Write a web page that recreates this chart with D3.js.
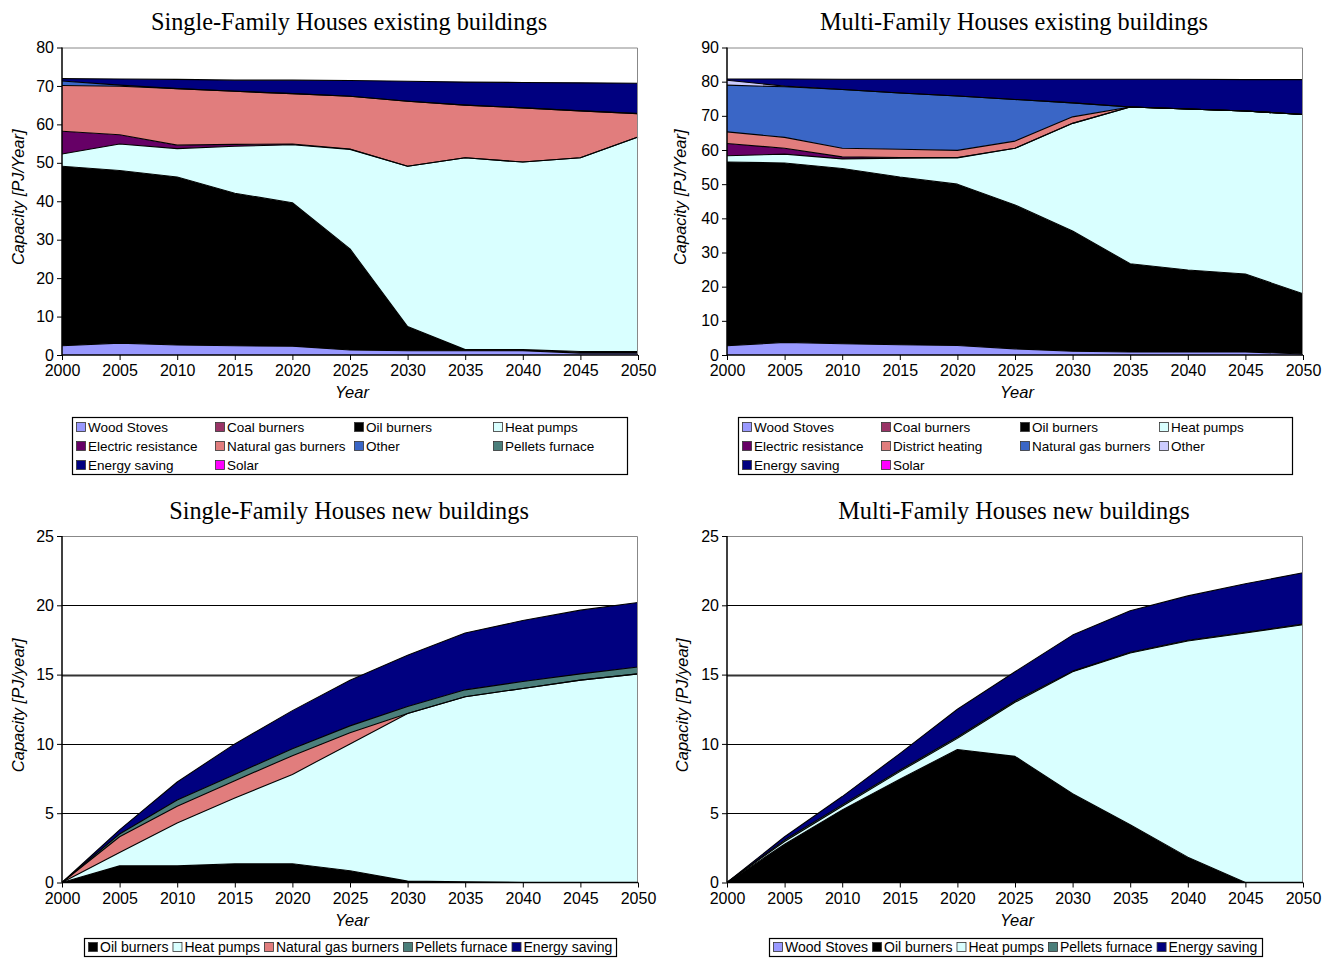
<!DOCTYPE html>
<html>
<head>
<meta charset="utf-8">
<script src="https://cdn.jsdelivr.net/npm/d3@7/dist/d3.min.js"></script>
<style>
  body { margin: 0; background: #fff; }
  svg { display: block; }
  text { font-family: "Liberation Sans", Arial, sans-serif; fill: #000; }
  .title { font-family: "Liberation Serif", "Times New Roman", serif; font-size: 24.3px; }
  .axt { font-size: 16.5px; font-style: italic; }
</style>
</head>
<body>
<svg id="chart" width="1334" height="958"></svg>
<script>
// ---------- DATA ----------
const years = [2000, 2005, 2010, 2015, 2020, 2025, 2030, 2035, 2040, 2045, 2050];

// Single-Family Houses existing buildings (PJ/year)
const sfhExWood     = [2.4, 3.1, 2.6, 2.4, 2.3, 1.3, 1.1, 1.1, 1.1, 0.5, 0.5];
const sfhExCoal     = [0, 0, 0, 0, 0, 0, 0, 0, 0, 0, 0];
const sfhExOil      = [46.7, 44.9, 43.7, 39.7, 37.3, 26.3, 6.3, 0.3, 0.3, 0.4, 0.4];
const sfhExHeatPump = [3.2, 6.9, 7.4, 12.2, 15.1, 25.9, 41.7, 49.9, 48.8, 50.4, 55.8];
const sfhExElectric = [5.9, 2.4, 0.9, 0.5, 0.2, 0.1, 0, 0, 0, 0, 0];
const sfhExGas      = [11.9, 12.6, 14.7, 13.8, 13.1, 13.7, 16.9, 13.7, 14.1, 12.2, 6.1];
const sfhExOther    = [1.2, 0.3, 0, 0, 0, 0, 0, 0, 0, 0, 0];
const sfhExPellets  = [0, 0, 0, 0, 0, 0, 0, 0, 0, 0, 0];
const sfhExSaving   = [0.6, 1.6, 2.4, 2.9, 3.5, 4.1, 5.2, 6.0, 6.6, 7.3, 7.9];
const sfhExSolar    = [0, 0, 0, 0, 0, 0, 0, 0, 0, 0, 0];

// Multi-Family Houses existing buildings
const mfhExWood     = [2.7, 3.7, 3.3, 3.0, 2.8, 1.8, 1.1, 0.9, 0.9, 0.9, 0.3];
const mfhExCoal     = [0, 0, 0, 0, 0, 0, 0, 0, 0, 0, 0];
const mfhExOil      = [53.8, 52.5, 51.3, 49.1, 47.2, 42.1, 35.2, 25.8, 24.0, 22.8, 17.6];
const mfhExHeatPump = [1.8, 2.6, 2.8, 5.5, 7.7, 16.6, 31.5, 45.9, 47.1, 47.7, 52.5];
const mfhExElectric = [3.6, 1.7, 0.6, 0.2, 0.1, 0, 0, 0, 0, 0, 0];
const mfhExDistrict = [3.4, 3.2, 2.5, 2.4, 2.1, 2.1, 1.9, 0, 0, 0, 0];
const mfhExGas      = [13.7, 14.8, 17.2, 16.5, 15.9, 12.2, 4.1, 0, 0, 0, 0];
const mfhExOther    = [1.4, 0.2, 0, 0, 0, 0, 0, 0, 0, 0, 0];
const mfhExSaving   = [0.4, 2.1, 3.0, 4.0, 4.9, 5.9, 6.9, 8.1, 8.7, 9.2, 10.2];
const mfhExSolar    = [0, 0, 0, 0, 0, 0, 0, 0, 0, 0, 0];

// Single-Family Houses new buildings
const sfhNewOil      = [0, 1.2, 1.2, 1.35, 1.35, 0.85, 0.1, 0.05, 0, 0, 0];
const sfhNewHeatPump = [0, 0.96, 3.1, 4.75, 6.45, 9.15, 12.1, 13.35, 14.0, 14.6, 15.05];
const sfhNewGas      = [0, 1.14, 1.2, 1.25, 1.35, 0.8, 0, 0, 0, 0, 0];
const sfhNewPellets  = [0, 0.2, 0.45, 0.45, 0.5, 0.5, 0.5, 0.5, 0.5, 0.45, 0.5];
const sfhNewSaving   = [0, 0.3, 1.3, 2.2, 2.75, 3.3, 3.7, 4.1, 4.4, 4.6, 4.65];

// Multi-Family Houses new buildings
const mfhNewWood     = [0, 0, 0, 0, 0, 0, 0, 0, 0, 0, 0];
const mfhNewOil      = [0, 2.76, 5.24, 7.45, 9.6, 9.1, 6.4, 4.16, 1.83, 0, 0];
const mfhNewHeatPump = [0, 0.2, 0.26, 0.55, 0.8, 3.9, 8.8, 12.4, 15.6, 18.0, 18.6];
const mfhNewPellets  = [0, 0.1, 0.1, 0.1, 0.1, 0.1, 0.05, 0.05, 0.05, 0.05, 0.05];
const mfhNewSaving   = [0, 0.24, 0.6, 1.2, 2.0, 2.1, 2.6, 3.0, 3.2, 3.5, 3.7];

const yTicksTop1 = [0, 10, 20, 30, 40, 50, 60, 70, 80];
const yTicksTop2 = [0, 10, 20, 30, 40, 50, 60, 70, 80, 90];
const yTicksBottom = [0, 5, 10, 15, 20, 25];
const gridBottom = [5, 10, 15, 20];

// colours
const C = {
  wood: "#9999ff", coal: "#993366", oil: "#000000", hp: "#d9ffff",
  elec: "#660066", salmon: "#e17d7d", blue: "#3a66c6", lav: "#ccccff",
  pellets: "#4b7f7b", saving: "#000080", solar: "#ff00ff"
};

// ---------- PANELS ----------
const panels = [
  {
    title: "Single-Family Houses existing buildings",
    x: 62, y: 47.5, w: 576, h: 307.5, ymax: 80, yticks: yTicksTop1, grid: [],
    ylabel: "Capacity [PJ/Year]", ylabelX: 18,
    series: [
      ["Wood Stoves", sfhExWood, C.wood], ["Coal burners", sfhExCoal, C.coal],
      ["Oil burners", sfhExOil, C.oil], ["Heat pumps", sfhExHeatPump, C.hp],
      ["Electric resistance", sfhExElectric, C.elec], ["Natural gas burners", sfhExGas, C.salmon],
      ["Other", sfhExOther, C.blue], ["Pellets furnace", sfhExPellets, C.pellets],
      ["Energy saving", sfhExSaving, C.saving], ["Solar", sfhExSolar, C.solar]
    ],
    legend: { type: "grid", x: 72, y: 417, w: 555, h: 57, cols: 4, colW: 139, fs: 13.5 }
  },
  {
    title: "Multi-Family Houses existing buildings",
    x: 727, y: 47.5, w: 576, h: 307.5, ymax: 90, yticks: yTicksTop2, grid: [],
    ylabel: "Capacity [PJ/Year]", ylabelX: 680,
    series: [
      ["Wood Stoves", mfhExWood, C.wood], ["Coal burners", mfhExCoal, C.coal],
      ["Oil burners", mfhExOil, C.oil], ["Heat pumps", mfhExHeatPump, C.hp],
      ["Electric resistance", mfhExElectric, C.elec], ["District heating", mfhExDistrict, C.salmon],
      ["Natural gas burners", mfhExGas, C.blue], ["Other", mfhExOther, C.lav],
      ["Energy saving", mfhExSaving, C.saving], ["Solar", mfhExSolar, C.solar]
    ],
    legend: { type: "grid", x: 738, y: 417, w: 554, h: 57, cols: 4, colW: 139, fs: 13.5 }
  },
  {
    title: "Single-Family Houses new buildings",
    x: 62, y: 536, w: 576, h: 346.5, ymax: 25, yticks: yTicksBottom, grid: gridBottom,
    ylabel: "Capacity [PJ/year]", ylabelX: 18,
    series: [
      ["Oil burners", sfhNewOil, C.oil], ["Heat pumps", sfhNewHeatPump, C.hp],
      ["Natural gas burners", sfhNewGas, C.salmon], ["Pellets furnace", sfhNewPellets, C.pellets],
      ["Energy saving", sfhNewSaving, C.saving]
    ],
    legend: { type: "row", x: 84, y: 938, w: 532, h: 18, fs: 14 }
  },
  {
    title: "Multi-Family Houses new buildings",
    x: 727, y: 536, w: 576, h: 346.5, ymax: 25, yticks: yTicksBottom, grid: gridBottom,
    ylabel: "Capacity [PJ/year]", ylabelX: 682,
    series: [
      ["Wood Stoves", mfhNewWood, C.wood], ["Oil burners", mfhNewOil, C.oil],
      ["Heat pumps", mfhNewHeatPump, C.hp], ["Pellets furnace", mfhNewPellets, C.pellets],
      ["Energy saving", mfhNewSaving, C.saving]
    ],
    legend: { type: "row", x: 769, y: 938, w: 493, h: 18, fs: 14 }
  }
];

const svg = d3.select("#chart");

panels.forEach(p => {
  const g = svg.append("g").attr("transform", `translate(${p.x},${p.y})`);
  const x = d3.scaleLinear().domain([2000, 2050]).range([0, p.w]);
  const y = d3.scaleLinear().domain([0, p.ymax]).range([p.h, 0]);

  // title
  svg.append("text").attr("class", "title")
    .attr("x", p.x + p.w / 2 - 1).attr("y", p.y - 17.5)
    .attr("text-anchor", "middle").text(p.title);

  // gridlines
  g.selectAll(".grid").data(p.grid).enter().append("line")
    .attr("x1", 0).attr("x2", p.w)
    .attr("y1", d => Math.round(y(d)) + 0.5).attr("y2", d => Math.round(y(d)) + 0.5)
    .attr("stroke", d => d === 15 ? "#333" : "#000")
    .attr("stroke-width", d => d === 15 ? 1.8 : 1);

  // stacked areas
  const keys = p.series.map(s => s[0]);
  const rows = years.map((yr, i) => {
    const o = { year: yr };
    p.series.forEach(s => { o[s[0]] = s[1][i]; });
    return o;
  });
  const stack = d3.stack().keys(keys)(rows);
  const area = d3.area().x(d => x(d.data.year)).y0(d => y(d[0])).y1(d => y(d[1]));
  const topLine = d3.line().x(d => x(d.data.year)).y(d => y(d[1]));

  g.selectAll(".layer").data(stack).enter().append("path")
    .attr("d", area)
    .attr("fill", (d, i) => p.series[i][2])
    .attr("stroke", "none");
  g.selectAll(".edge").data(stack.filter((d, i) => d3.max(p.series[i][1]) > 0)).enter().append("path")
    .attr("d", topLine)
    .attr("fill", "none").attr("stroke", "#000").attr("stroke-width", 1.1)
    .attr("stroke-linejoin", "round");

  // frame (top / right grey)
  g.append("path")
    .attr("d", `M0,0.5H${p.w - 0.5}V${p.h}`)
    .attr("fill", "none").attr("stroke", "#888").attr("stroke-width", 1);

  // axes
  const yAxis = d3.axisLeft(y).tickValues(p.yticks).tickSize(5).tickPadding(3).tickFormat(d3.format("d"));
  const xAxis = d3.axisBottom(x).tickValues(years).tickSize(5).tickPadding(5).tickFormat(d3.format("d"));
  const ga = g.append("g").call(yAxis);
  const gx = g.append("g").attr("transform", `translate(0,${p.h})`).call(xAxis);
  [ga, gx].forEach(a => {
    a.select(".domain").attr("stroke", "#000").attr("stroke-width", 1.5);
    a.selectAll(".tick line").attr("stroke", "#000");
    a.selectAll(".tick text").attr("font-family", "Liberation Sans, Arial, sans-serif").attr("font-size", 16);
  });
  gx.select(".domain").attr("d", `M0,0H${p.w}`);
  ga.select(".domain").attr("d", `M0,0V${p.h}`);

  // axis titles
  svg.append("text").attr("class", "axt")
    .attr("x", p.x + p.w / 2 + 2).attr("y", p.y + p.h + 43)
    .attr("text-anchor", "middle").text("Year");
  svg.append("text").attr("class", "axt")
    .attr("transform", `translate(${p.ylabelX},${p.y + p.h / 2 - 4}) rotate(-90)`)
    .attr("text-anchor", "middle").attr("dy", "0.35em").text(p.ylabel);

  // legend
  const L = p.legend;
  const lg = svg.append("g");
  lg.append("rect").attr("x", L.x + 0.5).attr("y", L.y + 0.5).attr("width", L.w).attr("height", L.h)
    .attr("fill", "#fff").attr("stroke", "#000").attr("stroke-width", 1.2);
  if (L.type === "grid") {
    p.series.forEach((s, i) => {
      const c = i % L.cols, r = Math.floor(i / L.cols);
      const lx = L.x + 4 + c * L.colW, ly = L.y + 10 + r * 19;
      lg.append("rect").attr("x", lx + 0.5).attr("y", ly - 4.5).attr("width", 9).attr("height", 9)
        .attr("fill", s[2]).attr("stroke", "#333").attr("stroke-width", 0.8);
      lg.append("text").attr("font-size", L.fs).attr("x", lx + 12).attr("y", ly + 5).text(s[0]);
    });
  } else {
    let lx = L.x + 4;
    const ly = L.y + 9;
    p.series.forEach(s => {
      lg.append("rect").attr("x", lx + 0.5).attr("y", ly - 4.5).attr("width", 9).attr("height", 9)
        .attr("fill", s[2]).attr("stroke", "#333").attr("stroke-width", 0.8);
      const t = lg.append("text").attr("font-size", L.fs).attr("x", lx + 12).attr("y", ly + 5).text(s[0]);
      lx += 12 + t.node().getComputedTextLength() + 4;
    });
  }
});
</script>
</body>
</html>
